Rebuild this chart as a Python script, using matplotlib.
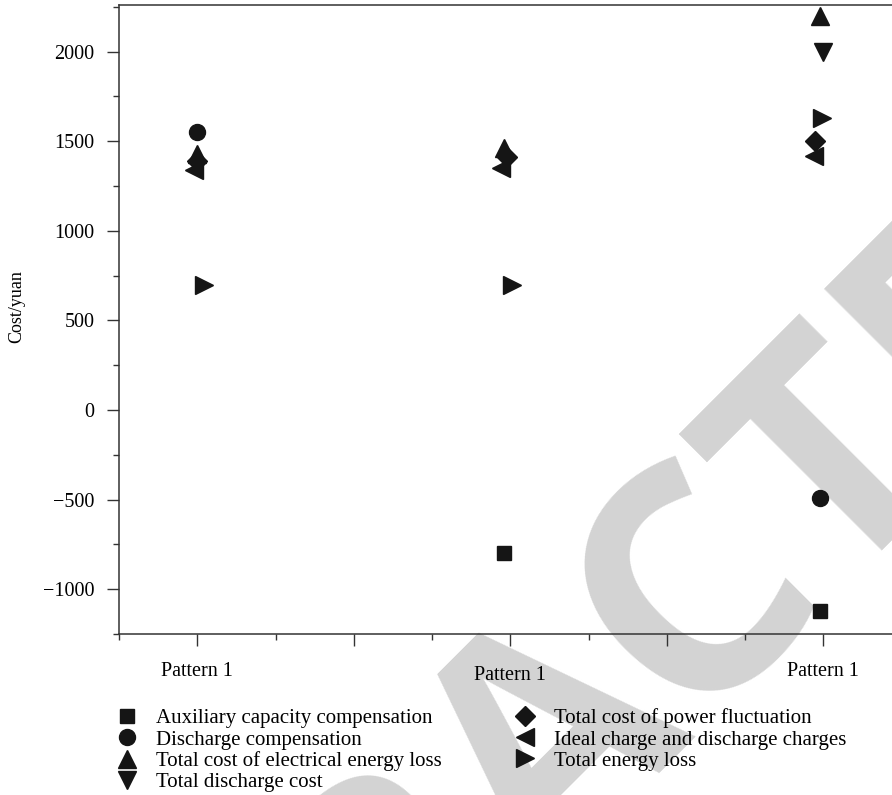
import matplotlib
matplotlib.use("Agg")
import matplotlib.pyplot as plt
import matplotlib.transforms as mtransforms
from matplotlib.ticker import MultipleLocator, FixedLocator
import numpy as np

plt.rcParams['font.family'] = ['Liberation Serif', 'DejaVu Serif']

# ===== data =====
tick_pos = [1, 2, 3, 4, 5]
tick_labels = ["Pattern 1", "", "Pattern 1", "", "Pattern 1"]

# x positions of each series (small offsets around the pattern ticks)
x_aux = [1.0, 2.96, 4.98]
x_dis = [1.0, 2.96, 4.98]
x_elec = [1.0, 2.96, 4.98]
x_total_dis = [1.0, 2.96, 5.0]
x_fluct = [1.0, 2.98, 4.95]
x_ideal = [0.98, 2.94, 4.94]
x_energy = [1.04, 3.01, 4.99]

aux_comp = [np.nan, -800, -1120]
dis_comp = [1550, np.nan, -490]
elec_loss = [1430, 1460, 2200]
total_dis = [np.nan, np.nan, 2000]
power_fluct = [1390, 1410, 1500]
ideal_charge = [1340, 1350, 1420]
energy_loss = [700, 700, 1630]

series = [
    (x_aux, aux_comp, 's', 10, "Auxiliary capacity compensation"),
    (x_dis, dis_comp, 'o', 11.5, "Discharge compensation"),
    (x_elec, elec_loss, '^', 13, "Total cost of electrical energy loss"),
    (x_total_dis, total_dis, 'v', 13, "Total discharge cost"),
    (x_fluct, power_fluct, 'D', 10, "Total cost of power fluctuation"),
    (x_ideal, ideal_charge, '<', 13, "Ideal charge and discharge charges"),
    (x_energy, energy_loss, '>', 13, "Total energy loss"),
]

fig = plt.figure(figsize=(8.92, 7.95), dpi=100)

# watermark behind everything
fig.text(0.69, 0.008, "RETRACTED", rotation=45, rotation_mode='anchor',
         ha='center', va='baseline', fontsize=228, fontweight='bold',
         family='Open Sans', color='#d3d3d3', zorder=0)

ax = fig.add_axes([0.1334, 0.2025, 0.8773, 0.7912])
ax.set_zorder(2)
ax.patch.set_alpha(0)

for xs, ys, m, ms, lab in series:
    ax.plot(xs, ys, linestyle='none', marker=m, markersize=ms,
            color='#151515', label=lab)

ax.set_xlim(0.5, 5.5)
ax.set_ylim(-1250, 2260)

ax.xaxis.set_major_locator(FixedLocator(tick_pos))
ax.set_xticklabels(tick_labels)
ax.xaxis.set_minor_locator(MultipleLocator(1, offset=0.5))
ax.yaxis.set_major_locator(MultipleLocator(500))
ax.yaxis.set_minor_locator(MultipleLocator(250))

ax.tick_params(axis='both', which='major', length=8.5, width=1.0,
               color='#333333', labelsize=14.5)
ax.tick_params(axis='both', which='minor', length=4, width=1.0, color='#333333')
ax.tick_params(axis='y', which='major', pad=9)
ax.tick_params(axis='x', which='major', pad=12)

ax.yaxis.set_major_formatter(
    matplotlib.ticker.FuncFormatter(lambda v, p: f"{int(v)}".replace('-', '\u2212')))

# middle pattern label sits a little lower
labels = ax.get_xticklabels()
offset = mtransforms.ScaledTranslation(0, -4 / 100, fig.dpi_scale_trans)
labels[2].set_transform(labels[2].get_transform() + offset)

for side in ['left', 'bottom', 'top', 'right']:
    ax.spines[side].set_color('#333333')
    ax.spines[side].set_linewidth(1.1)

ax.set_ylabel("Cost/yuan", fontsize=13)
ax.yaxis.set_label_coords(-0.12, 0.52)

handles, labs = ax.get_legend_handles_labels()
leg = fig.legend(handles, labs, ncol=2, loc='upper left',
                 bbox_to_anchor=(0.128, 0.109), frameon=False, fontsize=15,
                 labelspacing=0.08, handletextpad=0.8, columnspacing=3.4,
                 handlelength=1.2, borderpad=0, borderaxespad=0)
leg.set_zorder(3)

fig.savefig("out.png", dpi=100)
